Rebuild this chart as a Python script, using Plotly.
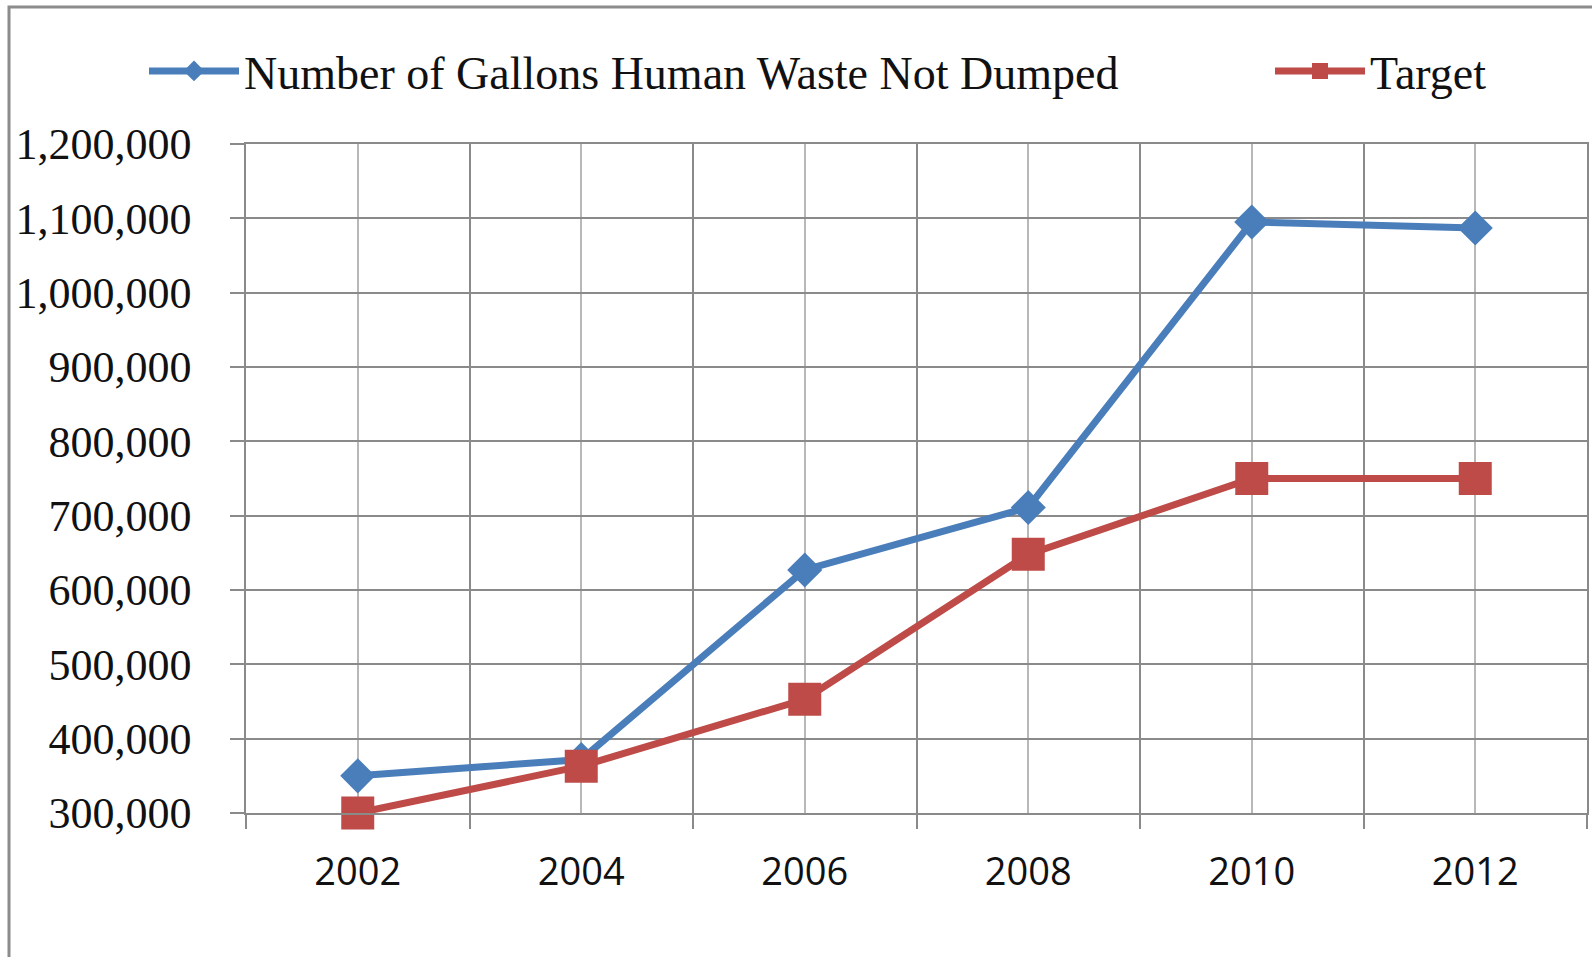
import plotly.graph_objects as go

# ---- data ----
years = [2002, 2004, 2006, 2008, 2010, 2012]
year_labels = ["2002", "2004", "2006", "2008", "2010", "2012"]
gallons_not_dumped = [350000, 372000, 627000, 711000, 1095000, 1087000]
target = [300000, 363000, 453000, 648000, 750000, 750000]
y_ticks = [300000, 400000, 500000, 600000, 700000, 800000, 900000, 1000000, 1100000, 1200000]

BLUE = "#4a7ebb"
RED = "#be4b48"
GRID_DARK = "#8a8a8a"
GRID_LIGHT = "#b8b8b8"

W, H = 1592, 957
ML, MR, MT, MB = 246, 5, 144, 144
PW, PH = W - ML - MR, H - MT - MB

fig = go.Figure()
fig.add_trace(go.Scatter(
    x=years, y=gallons_not_dumped, mode="lines+markers",
    name="Number of Gallons Human Waste Not Dumped",
    line=dict(color=BLUE, width=7),
    marker=dict(symbol="diamond", size=27, color=BLUE, line=dict(width=0)),
    cliponaxis=False, legend="legend",
))
fig.add_trace(go.Scatter(
    x=years, y=target, mode="lines+markers",
    name="Target",
    line=dict(color=RED, width=7),
    marker=dict(symbol="square", size=33, color=RED, line=dict(width=0)),
    cliponaxis=False, legend="legend2",
))

fig.update_xaxes(
    range=[years[0] - 1, years[-1] + 1],
    tickmode="array", tickvals=years, ticktext=year_labels,
    ticks="", showgrid=True, gridcolor=GRID_LIGHT, gridwidth=1.5,
    minor=dict(tick0=years[0] - 1, dtick=2, ticks="outside", ticklen=14,
               tickwidth=1.5, tickcolor=GRID_DARK, showgrid=True,
               gridcolor=GRID_DARK, gridwidth=1.5),
    showline=True, linecolor=GRID_DARK, linewidth=1.5, mirror=True,
    tickfont=dict(family="Open Sans, Liberation Sans, sans-serif", size=38, color="#111"),
    ticklabelstandoff=25,
    zeroline=False,
)
fig.update_yaxes(
    range=[y_ticks[0], y_ticks[-1]],
    tickmode="array", tickvals=y_ticks, tickformat=",",
    ticks="outside", ticklen=14, tickwidth=1.5, tickcolor=GRID_DARK,
    showgrid=True, gridcolor=GRID_DARK, gridwidth=1.5,
    showline=True, linecolor=GRID_DARK, linewidth=1.5, mirror=True,
    tickfont=dict(family="Liberation Serif, serif", size=44, color="#111"),
    ticklabelstandoff=30,
    zeroline=False,
)

# outer chart frame (left and top edges visible in the reference)
fig.add_shape(type="rect", xref="paper", yref="paper",
              x0=(9 - ML) / PW, x1=1.2, y0=-0.6, y1=(H - MB - 7) / PH,
              line=dict(color="#8c8c8c", width=3), layer="below")

legend_font = dict(family="Liberation Serif, serif", size=46, color="#111")
legend_common = dict(
    orientation="h", xref="paper", yref="paper", xanchor="left",
    y=(H - MB - 71) / PH, yanchor="middle",
    font=legend_font, itemwidth=90,
    bgcolor="rgba(0,0,0,0)", borderwidth=0,
)

fig.update_layout(
    width=W, height=H,
    margin=dict(l=ML, r=MR, t=MT, b=MB, pad=0, autoexpand=False),
    paper_bgcolor="white", plot_bgcolor="white",
    showlegend=True,
    legend=dict(x=(144 - ML) / PW, **legend_common),
    legend2=dict(x=(1270 - ML) / PW, **legend_common),
)

fig.write_html("out.html", config={"displayModeBar": False},
               post_script="document.body.style.margin='0';")
